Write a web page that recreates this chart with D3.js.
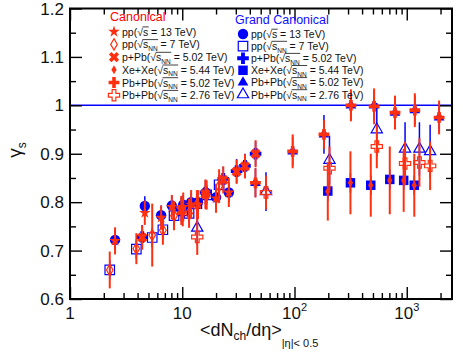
<!DOCTYPE html>
<html>
<head>
<meta charset="utf-8">
<script src="https://cdn.jsdelivr.net/npm/d3@7"></script>
<style>
  body { margin: 0; background: #fff; }
  text { font-family: "Liberation Sans", Arial, Helvetica, sans-serif; }
</style>
</head>
<body>
<svg id="chart"></svg>
<script>
(function(){

// multiplicity classes <dNch/deta>
var ppMult13    = [2.52, 4.64, 6.48, 8.07, 10.2, 12.0, 13.8, 16.2, 20.0, 26.0];
var ppMult7     = [2.26, 3.90, 5.40, 6.72, 8.45, 10.1, 11.5, 13.5, 16.5, 21.3];
var pPbMult     = [4.4, 9.8, 16.1, 23.2, 30.5, 36.2, 45.0];
var xeXeMult    = [198, 315, 478, 706, 939, 1167];
var pbPb502Mult = [44.9, 96.3, 183, 318, 512, 786, 1180, 1942];
var pbPb276Mult = [13.6, 55.7, 205, 541, 966, 1297, 1615];

// gamma_s, grand canonical fits
var gcPP13     = [0.722, 0.792, 0.773, 0.793, 0.795, 0.800, 0.800, 0.820, 0.810, 0.820];
var gcPP13Err  = [0.02, 0.02, 0.02, 0.02, 0.02, 0.02, 0.02, 0.02, 0.02, 0.02];
var gcPP7      = [0.660, 0.703, 0.727, 0.743, 0.772, 0.782, 0.777, 0.797, 0.815, 0.836];
var gcPP7Err   = [0.02, 0.02, 0.02, 0.02, 0.02, 0.02, 0.02, 0.02, 0.02, 0.02];
var gcPPb      = [0.728, 0.785, 0.820, 0.848, 0.864, 0.875, 0.900];
var gcPPbErr   = [0.025, 0.025, 0.025, 0.025, 0.025, 0.025, 0.025];
var gcXeXe     = [0.823, 0.840, 0.835, 0.847, 0.845, 0.835];
var gcXeXeErr  = [0.02, 0.02, 0.02, 0.02, 0.02, 0.02];
var gcPbPb502  = [0.840, 0.905, 0.940, 1.000, 1.000, 0.985, 0.990, 0.975];
var gcPbPb502Err = [0.03, 0.03, 0.04, 0.03, 0.03, 0.03, 0.03, 0.03];
var gcPbPb276  = [0.747, 0.822, 0.887, 0.950, 0.910, 0.910, 0.905];
var gcPbPb276Err = [0.035, 0.04, 0.05, 0.055, 0.055, 0.055, 0.055];

// gamma_s, canonical fits
var canPP13    = [0.720, 0.778, 0.768, 0.790, 0.790, 0.795, 0.795, 0.815, 0.808, 0.820];
var canPP13Err = [0.028, 0.025, 0.025, 0.025, 0.03, 0.03, 0.03, 0.03, 0.03, 0.03];
var canPP7     = [0.660, 0.704, 0.732, 0.742, 0.772, 0.780, 0.777, 0.795, 0.815, 0.833];
var canPP7Err  = [0.038, 0.032, 0.065, 0.03, 0.03, 0.03, 0.03, 0.03, 0.03, 0.035];
var canPPb     = [0.727, 0.783, 0.817, 0.846, 0.863, 0.874, 0.900];
var canPPbErr  = [0.025, 0.03, 0.03, 0.028, 0.025, 0.025, 0.028];
var canXeXe    = [0.822, 0.840, 0.835, 0.845, 0.845, 0.835];
var canXeXeErr = [0.06, 0.065, 0.065, 0.07, 0.065, 0.065];
var canPbPb502 = [0.840, 0.905, 0.940, 1.000, 0.998, 0.985, 0.990, 0.975];
var canPbPb502Err = [0.03, 0.035, 0.03, 0.033, 0.037, 0.035, 0.035, 0.035];
var canPbPb276 = [0.728, 0.820, 0.870, 0.915, 0.880, 0.882, 0.875];
var canPbPb276Err = [0.037, 0.035, 0.045, 0.045, 0.045, 0.05, 0.05];

// legend texts
var systems  = ["pp", "pp", "p+Pb", "Xe+Xe", "Pb+Pb", "Pb+Pb"];
var energies = ["13", "7", "5.02", "5.44", "5.02", "2.76"];
var perNN    = [false, true, true, true, true, true];

var yTicks = [0.6, 0.7, 0.8, 0.9, 1.0, 1.1, 1.2];
var xTicks = [1, 10, 100, 1000];

var RED = "#ff3010", BLUE = "#0000ff";

var W = 463, H = 354;
var margin = {top: 8.5, right: 11, bottom: 55, left: 70};

var svg = d3.select("#chart").attr("width", W).attr("height", H);

var x = d3.scaleLog().domain([1, 2530]).range([margin.left, W - margin.right]);
var y = d3.scaleLinear().domain([0.6, 1.2]).range([H - margin.bottom, margin.top]);

// thick "x" marker: the plus sign turned by 45 degrees
var xCross = { draw: function(ctx, size) {
  var r = Math.sqrt(size / 5) / 2, c = Math.SQRT1_2;
  var pts = [[-r,-3*r],[r,-3*r],[r,-r],[3*r,-r],[3*r,r],[r,r],[r,3*r],[-r,3*r],[-r,r],[-3*r,r],[-3*r,-r],[-r,-r]];
  pts.forEach(function(p, i){
    var px = (p[0] - p[1]) * c, py = (p[0] + p[1]) * c;
    if (i === 0) ctx.moveTo(px, py); else ctx.lineTo(px, py);
  });
  ctx.closePath();
}};

var styles = {
  gcPP13:     {type: d3.symbolCircle,   size: 85, color: BLUE, open: false},
  gcPP7:      {type: d3.symbolSquare,   size: 90, color: BLUE, open: true},
  gcPPb:      {type: d3.symbolCross,    size: 75, color: BLUE, open: false},
  gcXeXe:     {type: d3.symbolSquare,   size: 90, color: BLUE, open: false},
  gcPbPb502:  {type: d3.symbolTriangle, size: 50, color: BLUE, open: false},
  gcPbPb276:  {type: d3.symbolTriangle, size: 55, color: BLUE, open: true},
  canPP13:    {type: d3.symbolStar,     size: 42, color: RED, open: false},
  canPP7:     {type: d3.symbolDiamond,  size: 38, color: RED, open: true},
  canPPb:     {type: xCross,            size: 65, color: RED, open: false},
  canXeXe:    {type: d3.symbolDiamond,  size: 24, color: RED, open: false},
  canPbPb502: {type: d3.symbolCross,    size: 65, color: RED, open: false},
  canPbPb276: {type: d3.symbolCross,    size: 70, color: RED, open: true}
};

function series(key, xs, ys, es) {
  return {key: key, style: styles[key], points: xs.map(function(v, i){ return {x: v, y: ys[i], e: es[i]}; })};
}

var gcSeries = [
  series("gcPP13", ppMult13, gcPP13, gcPP13Err),
  series("gcPP7", ppMult7, gcPP7, gcPP7Err),
  series("gcPPb", pPbMult, gcPPb, gcPPbErr),
  series("gcXeXe", xeXeMult, gcXeXe, gcXeXeErr),
  series("gcPbPb502", pbPb502Mult, gcPbPb502, gcPbPb502Err),
  series("gcPbPb276", pbPb276Mult, gcPbPb276, gcPbPb276Err)
];
var canSeries = [
  series("canPP13", ppMult13, canPP13, canPP13Err),
  series("canPP7", ppMult7, canPP7, canPP7Err),
  series("canPPb", pPbMult, canPPb, canPPbErr),
  series("canXeXe", xeXeMult, canXeXe, canXeXeErr),
  series("canPbPb502", pbPb502Mult, canPbPb502, canPbPb502Err),
  series("canPbPb276", pbPb276Mult, canPbPb276, canPbPb276Err)
];

function marker(sel, st) {
  sel.attr("d", d3.symbol().type(st.type).size(st.size))
    .style("fill", st.open ? "none" : st.color)
    .style("stroke", st.open ? st.color : "none")
    .style("stroke-width", st.open ? 1.2 : 0);
}

// reference line at gamma_s = 1
svg.append("line")
  .attr("x1", x.range()[0]).attr("x2", x.range()[1])
  .attr("y1", y(1)).attr("y2", y(1))
  .style("stroke", BLUE).style("stroke-width", 1.5);

function drawSeries(list, barWidth) {
  list.forEach(function(s){
    var g = svg.append("g").attr("class", s.key);
    g.selectAll("line.bar").data(s.points).enter().append("line")
      .attr("class", "bar")
      .attr("x1", function(d){ return x(d.x); })
      .attr("x2", function(d){ return x(d.x); })
      .attr("y1", function(d){ return y(d.y - d.e); })
      .attr("y2", function(d){ return y(d.y + d.e); })
      .style("stroke", s.style.color).style("stroke-width", barWidth);
  });
  list.forEach(function(s){
    svg.select("g." + s.key).selectAll("path").data(s.points).enter().append("path")
      .attr("transform", function(d){ return "translate(" + x(d.x) + "," + y(d.y) + ")"; })
      .call(marker, s.style);
  });
}
drawSeries(gcSeries, 1.5);
drawSeries(canSeries, 2);

// axes: ticks on all four sides, pointing inwards
var minorX = x.ticks().filter(function(v){ return xTicks.indexOf(v) < 0 && v <= x.domain()[1]; });
var minorY = d3.range(0.65, 1.2, 0.1);

function ticks(axis, tr, values, len) {
  svg.append("g").attr("transform", tr)
    .call(axis.tickValues(values).tickSize(-len).tickFormat(""))
    .call(function(g){
      g.select(".domain").remove();
      g.selectAll("line").style("stroke", "#000").style("stroke-width", 1.4);
    });
}
var bottom = "translate(0," + y.range()[0] + ")", top = "translate(0," + y.range()[1] + ")";
var left = "translate(" + x.range()[0] + ",0)", right = "translate(" + x.range()[1] + ",0)";
ticks(d3.axisBottom(x), bottom, xTicks, 12);
ticks(d3.axisBottom(x), bottom, minorX, 6);
ticks(d3.axisTop(x), top, xTicks, 12);
ticks(d3.axisTop(x), top, minorX, 6);
ticks(d3.axisLeft(y), left, yTicks, 12);
ticks(d3.axisLeft(y), left, minorY, 6);
ticks(d3.axisRight(y), right, yTicks, 12);
ticks(d3.axisRight(y), right, minorY, 6);

// frame
svg.append("rect")
  .attr("x", x.range()[0]).attr("y", y.range()[1])
  .attr("width", x.range()[1] - x.range()[0])
  .attr("height", y.range()[0] - y.range()[1])
  .style("fill", "none").style("stroke", "#000").style("stroke-width", 2);

// tick labels
svg.selectAll("text.ylab").data(yTicks).enter().append("text")
  .attr("class", "ylab")
  .attr("x", x.range()[0] - 6)
  .attr("y", function(d){ return y(d) + 6; })
  .attr("text-anchor", "end")
  .style("font-size", "17px").style("fill", "#111")
  .text(function(d){ return d === 1 ? "1" : d3.format(".1f")(d); });

var xl = svg.selectAll("text.xlab").data(xTicks).enter().append("text")
  .attr("class", "xlab")
  .attr("x", function(d){ return x(d); })
  .attr("y", 319)
  .attr("text-anchor", "middle")
  .style("font-size", "17px").style("fill", "#111");
xl.append("tspan").text(function(d){ return d < 100 ? String(d) : "10"; });
xl.filter(function(d){ return d >= 100; }).append("tspan")
  .attr("dy", -8).style("font-size", "11px")
  .text(function(d){ return String(Math.round(Math.log10(d))); });

// axis titles
var xt = svg.append("text")
  .attr("x", 200).attr("y", 336)
  .style("font-size", "18px").style("fill", "#111");
xt.append("tspan").text("<dN");
xt.append("tspan").attr("dy", 4).style("font-size", "12px").text("ch");
xt.append("tspan").attr("dy", -4).text("/dη>");
xt.append("tspan").attr("dy", 11).style("font-size", "11px").text("|η|< 0.5");

var yt = svg.append("text")
  .attr("transform", "translate(21,150) rotate(-90)")
  .attr("text-anchor", "middle")
  .style("font-size", "19px").style("fill", "#111");
yt.append("tspan").text("γ");
yt.append("tspan").attr("dy", 5).style("font-size", "12px").text("s");

// legends
function legend(title, titleColor, tx, ty, list, mx, row0, step) {
  svg.append("text").attr("x", tx).attr("y", ty)
    .style("font-size", "12.5px").style("fill", titleColor).text(title);
  list.forEach(function(s, i){
    var cy = row0 + i * step;
    svg.append("path")
      .attr("transform", "translate(" + mx + "," + cy + ")")
      .call(marker, s.style);
    var t = svg.append("text").attr("x", mx + 8).attr("y", cy + 4)
      .style("font-size", "10.5px").style("fill", "#111");
    var pre = systems[i] + "(";
    t.append("tspan").text(pre + "√s");
    var n = pre.length + 2;
    if (perNN[i]) {
      t.append("tspan").attr("dy", 2.5).style("font-size", "6.5px").text("NN");
      t.append("tspan").attr("dy", -2.5).text(" = " + energies[i] + " TeV)");
      n += 2;
    } else {
      t.append("tspan").text(" = " + energies[i] + " TeV)");
    }
    // overline of the square root
    var node = t.node();
    var x0 = node.getEndPositionOfChar(pre.length).x;
    var x1 = node.getEndPositionOfChar(n - 1).x;
    svg.append("line")
      .attr("x1", x0 - 0.5).attr("x2", x1 + 0.5)
      .attr("y1", cy - 4.8).attr("y2", cy - 4.8)
      .style("stroke", "#111").style("stroke-width", 0.8);
  });
}
legend("Canonical", "#ff0000", 110, 21, canSeries, 114, 31.7, 12.7);
legend("Grand Canonical", "#1010ff", 235, 24, gcSeries, 243, 34, 12.1);

})();
</script>
</body>
</html>
